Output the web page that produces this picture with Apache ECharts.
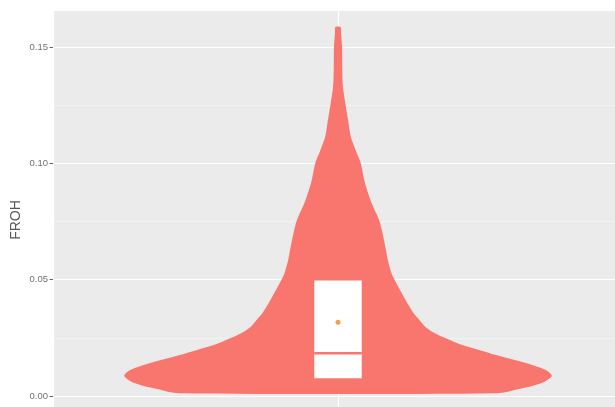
<!DOCTYPE html>
<html>
<head>
<meta charset="utf-8">
<script src="https://cdn.jsdelivr.net/npm/echarts@6/dist/echarts.min.js"></script>
<style>
  html, body { margin: 0; padding: 0; background: #ffffff; }
  #chart { width: 615px; height: 407px; }
</style>
</head>
<body>
<div id="chart"></div>
<script>
// Violin outline of FROH: value levels and the scaled density (half-width, 1 = widest)
const frohLevels = [0.0012, 0.0030, 0.0056, 0.0086, 0.0112, 0.0142, 0.0176, 0.0198, 0.0219, 0.0249,
                    0.0271, 0.0297, 0.0327, 0.0357, 0.0413, 0.0443, 0.0499, 0.0529, 0.0585, 0.0615,
                    0.0701, 0.0757, 0.0830, 0.0916, 0.1002, 0.1058, 0.1114, 0.1187, 0.1260, 0.1329,
                    0.1402, 0.1500, 0.1561, 0.1586];
const violinWidth = [0.744, 0.847, 0.953, 1.000, 0.972, 0.879, 0.740, 0.660, 0.581, 0.502,
                     0.451, 0.409, 0.381, 0.353, 0.316, 0.298, 0.265, 0.250, 0.233, 0.227,
                     0.208, 0.192, 0.157, 0.126, 0.106, 0.082, 0.060, 0.047, 0.034, 0.023,
                     0.020, 0.019, 0.014, 0.012];
// Box: lower hinge, median, upper hinge
const boxQuartiles = [0.0076, 0.0184, 0.0496];
// Mean of FROH
const frohMean = [0.0317];

const groupCenter = 0.6;   // position of the single group on the x scale
const maxHalfWidth = 0.45; // widest violin half-width in x units
const boxHalfWidth = 0.05;

const violinColor = '#F8766D';
const labelFont = "'Liberation Sans', Arial, sans-serif";

function renderViolin(params, api) {
  const right = [];
  const left = [];
  for (let i = 0; i < frohLevels.length; i++) {
    const w = violinWidth[i] * maxHalfWidth;
    right.push(api.coord([groupCenter + w, frohLevels[i]]));
    left.push(api.coord([groupCenter - w, frohLevels[i]]));
  }
  return {
    type: 'polygon',
    shape: { points: right.concat(left.reverse()), smooth: 0.3 },
    style: { fill: violinColor }
  };
}

function renderBox(params, api) {
  const x = api.value(0);
  const q1 = api.value(1), med = api.value(2), q3 = api.value(3);
  const tl = api.coord([x - boxHalfWidth, q3]);
  const br = api.coord([x + boxHalfWidth, q1]);
  const ml = api.coord([x - boxHalfWidth, med]);
  const mr = api.coord([x + boxHalfWidth, med]);
  return {
    type: 'group',
    children: [
      { type: 'rect', shape: { x: tl[0], y: tl[1], width: br[0] - tl[0], height: br[1] - tl[1] },
        style: { fill: '#ffffff' } },
      { type: 'line', shape: { x1: ml[0], y1: ml[1], x2: mr[0], y2: mr[1] },
        style: { stroke: violinColor, lineWidth: 2.5 } }
    ]
  };
}

const chart = echarts.init(document.getElementById('chart'), null, { renderer: 'canvas' });
chart.setOption({
  animation: false,
  backgroundColor: '#ffffff',
  grid: [
    { left: 53, right: -8, top: 11, bottom: -105.3, outerBoundsMode: 'none', containLabel: false,
      show: true, backgroundColor: '#EBEBEB', borderWidth: 0, z: 0 },
    { left: 53, right: -8, top: 47, bottom: -105.3, outerBoundsMode: 'none', containLabel: false,
      show: false }
  ],
  xAxis: [
    { type: 'value', gridIndex: 0, min: 0, max: 1.2, interval: 0.6, z: 1,
      axisLine: { show: false }, axisTick: { show: false }, axisLabel: { show: false },
      splitLine: { show: true, lineStyle: { color: '#ffffff', width: 1.2 } } },
    { type: 'value', gridIndex: 1, min: 0, max: 1.2, show: false }
  ],
  yAxis: [
    { type: 'value', gridIndex: 0, min: -0.05, max: 0.1655, show: false },
    { type: 'value', gridIndex: 1, min: -0.05, max: 0.15, interval: 0.05, z: 1,
      axisLine: { show: false },
      axisTick: { show: true, length: 3.5, lineStyle: { color: '#666666', width: 1 } },
      axisLabel: { margin: 5, fontSize: 9.5, color: '#707070', fontFamily: labelFont,
        formatter: v => (v < 0 ? '' : v.toFixed(2)) },
      splitLine: { show: true, lineStyle: { color: '#ffffff', width: 1.2 } },
      minorTick: { show: false, splitNumber: 2 },
      minorSplitLine: { show: true, lineStyle: { color: '#F5F5F5', width: 0.8 } } }
  ],
  graphic: [
    { type: 'text', x: 16, y: 220, rotation: Math.PI / 2,
      style: { text: 'FROH', fontSize: 14, fill: '#595959', fontFamily: labelFont,
               align: 'center', verticalAlign: 'middle' } }
  ],
  series: [
    { type: 'custom', name: 'violin', xAxisIndex: 0, yAxisIndex: 0, z: 2,
      renderItem: renderViolin, data: [[groupCenter, boxQuartiles[1]]], silent: true },
    { type: 'custom', name: 'box', xAxisIndex: 0, yAxisIndex: 0, z: 3,
      renderItem: renderBox, data: [[groupCenter, boxQuartiles[0], boxQuartiles[1], boxQuartiles[2]]], silent: true },
    { type: 'scatter', name: 'mean', xAxisIndex: 0, yAxisIndex: 0, z: 4,
      symbol: 'circle', symbolSize: 5, itemStyle: { color: '#E8892B' },
      data: frohMean.map(m => [groupCenter, m]), silent: true }
  ]
});
</script>
</body>
</html>
